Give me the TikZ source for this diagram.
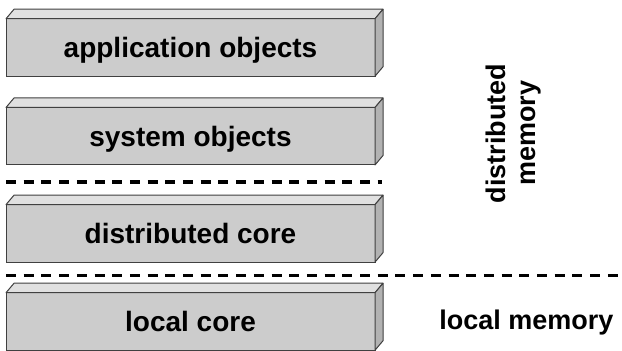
\documentclass[tikz,border=0pt]{standalone}
\usepackage{fontspec}
\setsansfont{Liberation Sans}

\begin{document}
\begin{tikzpicture}[x=1pt,y=1pt,
	layer node/.style={rectangle,draw=black!75,fill=black!20,line width=1pt,inner sep=0pt,outer sep=0pt,minimum width=369pt,minimum height=57.5pt,text height=20pt,text depth=0pt,font=\sffamily\bfseries\fontsize{28}{30}\selectfont},
	top face/.style={draw=black!75,fill=black!12,line width=1pt,line join=round},
	side face/.style={draw=black!75,fill=black!30,line width=1pt,line join=round},
	divider/.style={line width=3.2pt,dash pattern=on 10pt off 7.7pt},
	side label/.style={font=\sffamily\bfseries\fontsize{27}{29.6}\selectfont}]

	\useasboundingbox (0,0) rectangle (622,351);

	%nodes
	\node[layer node] (App) at (190.5,303.5) {application objects};
	\node[layer node] (Sys) at (190.5,214.75) {system objects};
	\node[layer node] (DCore) at (190.5,117.6) {distributed core};
	\node[layer node] (LCore) at (190.5,29.5) {local core};

	\node[side label, rotate=90, align=center] (DMem) at (513.3,217.7) {distributed \\ memory};
	\node[side label, anchor=base] (LMem) at (526.5,21) {local memory};

	%faces of the layers
	\foreach \n in {App,Sys,DCore,LCore} {
		\draw[top face] (\n.north west) -- ([shift={(8pt,9.5pt)}]\n.north west) -- ([shift={(8pt,9.5pt)}]\n.north east) -- (\n.north east) -- cycle;
		\draw[side face] (\n.north east) -- ([shift={(8pt,9.5pt)}]\n.north east) -- ([shift={(8pt,9.5pt)}]\n.south east) -- (\n.south east) -- cycle;
	}

	%dividers
	\coordinate (SysCoreL) at (6,169);
	\coordinate (SysCoreR) at (382,169);
	\coordinate (LocalL) at (6,75.3);
	\coordinate (LocalR) at (622,75.3);
	\draw[divider] (SysCoreL) -- (SysCoreR);
	\draw[divider] (LocalL) -- (LocalR);

\end{tikzpicture}
\end{document}
